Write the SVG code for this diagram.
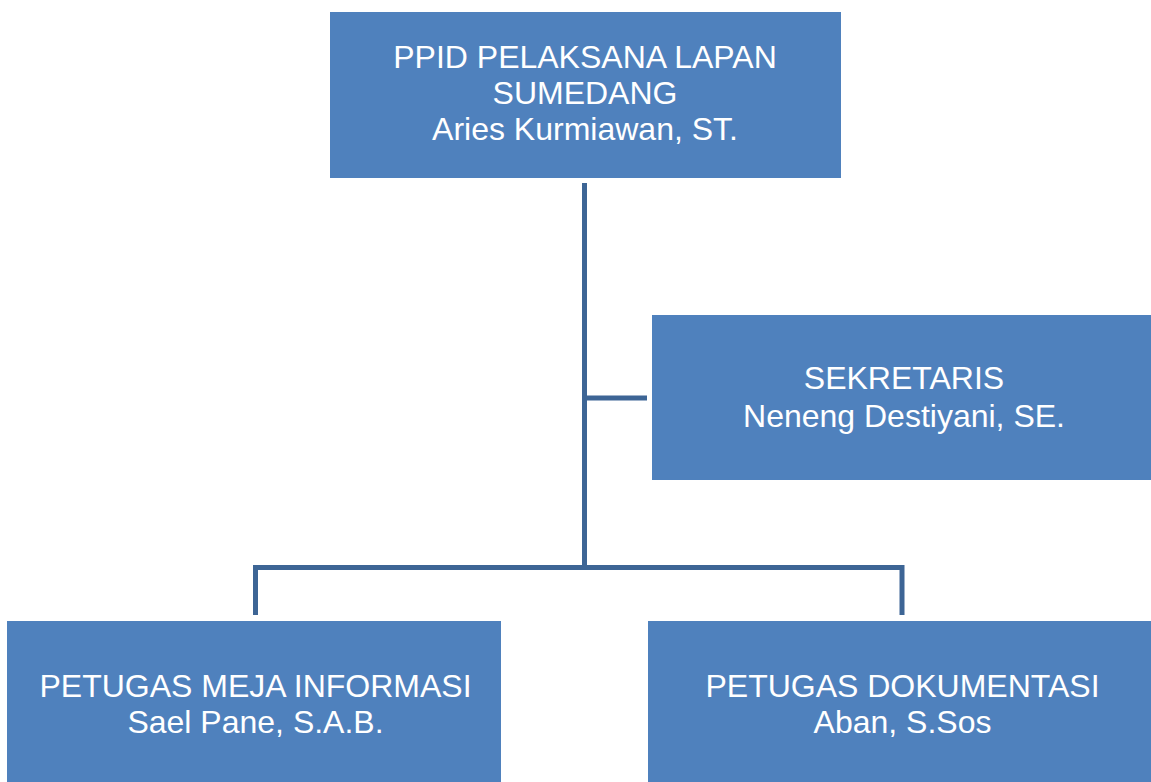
<svg xmlns="http://www.w3.org/2000/svg" width="1151" height="782" viewBox="0 0 1151 782">
<style>
.box{fill:#4f81bd;}
.t{font-family:"Liberation Sans",Arial,sans-serif;font-size:32px;fill:#ffffff;text-anchor:middle;}
.c{fill:none;stroke:#3d6595;stroke-width:5;}
</style>
<rect width="1151" height="782" fill="#ffffff"/>
<g id="connectors">
<path class="c" d="M584.5 183 V570"/>
<path class="c" d="M584.5 398 H647"/>
<path class="c" d="M255.5 615 V567.5 H902 V615"/>
</g>
<g id="node-ppid">
<rect class="box" x="330" y="12" width="511" height="166"/>
<text class="t" x="585" y="68">PPID PELAKSANA LAPAN</text>
<text class="t" x="585" y="104">SUMEDANG</text>
<text class="t" x="585" y="140">Aries Kurmiawan, ST.</text>
</g>
<g id="node-sekretaris">
<rect class="box" x="652" y="315" width="499" height="165"/>
<text class="t" x="904" y="389">SEKRETARIS</text>
<text class="t" x="904" y="427">Neneng Destiyani, SE.</text>
</g>
<g id="node-meja">
<rect class="box" x="7" y="621" width="494" height="161"/>
<text class="t" x="255.5" y="697">PETUGAS MEJA INFORMASI</text>
<text class="t" x="255.5" y="733">Sael Pane, S.A.B.</text>
</g>
<g id="node-dokumentasi">
<rect class="box" x="648" y="621" width="503" height="161"/>
<text class="t" x="902.5" y="697">PETUGAS DOKUMENTASI</text>
<text class="t" x="902.5" y="733">Aban, S.Sos</text>
</g>
</svg>
